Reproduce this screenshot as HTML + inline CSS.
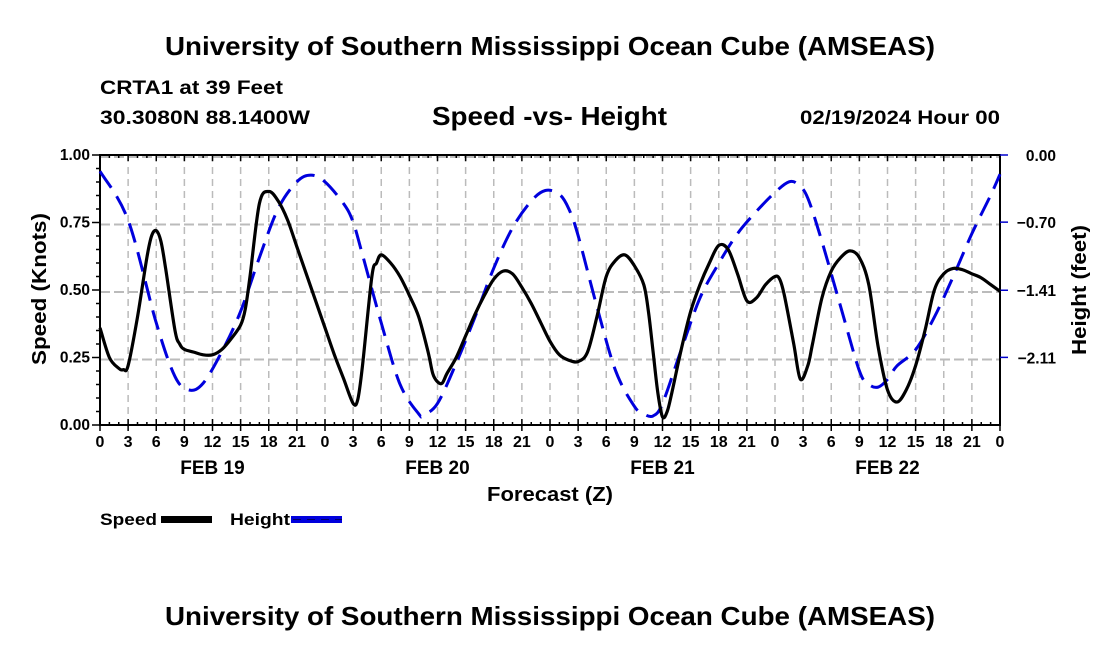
<!DOCTYPE html>
<html><head><meta charset="utf-8"><style>
body{margin:0;background:#fff;}
svg{display:block;font-family:"Liberation Sans",sans-serif;font-weight:bold;}
</style></head><body>
<svg id="c" width="1100" height="650">
<text x="165" y="55" font-size="26" textLength="770" lengthAdjust="spacingAndGlyphs">University of Southern Mississippi Ocean Cube (AMSEAS)</text>
<text x="100" y="94" font-size="19" textLength="183" lengthAdjust="spacingAndGlyphs">CRTA1 at 39 Feet</text>
<text x="100" y="124" font-size="19" textLength="210" lengthAdjust="spacingAndGlyphs">30.3080N  88.1400W</text>
<text x="432" y="125" font-size="26" textLength="235" lengthAdjust="spacingAndGlyphs">Speed -vs- Height</text>
<text x="800" y="124" font-size="19" textLength="200" lengthAdjust="spacingAndGlyphs">02/19/2024 Hour 00</text>
<g id="grid"></g><g id="axes"></g><g id="series"></g>
<text x="487" y="501" font-size="20" textLength="126" lengthAdjust="spacingAndGlyphs">Forecast (Z)</text>
<text transform="translate(46,289) rotate(-90)" text-anchor="middle" font-size="20" textLength="152" lengthAdjust="spacingAndGlyphs">Speed (Knots)</text>
<text transform="translate(1086,290) rotate(-90)" text-anchor="middle" font-size="20" textLength="130" lengthAdjust="spacingAndGlyphs">Height (feet)</text>
<g>
<text x="100" y="525" font-size="17" textLength="57" lengthAdjust="spacingAndGlyphs">Speed</text>
<rect x="161" y="516" width="51" height="7" fill="#000"/>
<text x="230" y="525" font-size="17" textLength="60" lengthAdjust="spacingAndGlyphs">Height</text>
<rect x="291" y="516" width="51" height="7" fill="#0000dd"/>
<line x1="293" y1="519.5" x2="342" y2="519.5" stroke="#000066" stroke-width="1" stroke-dasharray="8,6"/>
</g>
<text x="165" y="625" font-size="26" textLength="770" lengthAdjust="spacingAndGlyphs">University of Southern Mississippi Ocean Cube (AMSEAS)</text>
</svg>
<script>
const speedHours=[0,1,2,2.5,3,4,5,5.5,6,6.5,7,8,8.5,9,10,11,12,13,14,15,15.5,16,17,18,19,20,21,22,23,24,25,26,27,27.5,28,29,29.5,30,31,32,33,34,35,35.5,36,36.5,37,38,39,40,41,42,43,44,45,46,47,48,49,50,51,52,53,54,55,56,57,58,58.5,59,59.5,60,60.5,61,62,63,64,65,66,67,68,69,70,71,72,72.5,73,74,74.7,75.5,76,77,78,79,80,81,82,83,84,85,86,87,88,89,90,91,92,93,94,95,96];
const speedValues=[0.36,0.25,0.21,0.205,0.22,0.4,0.62,0.70,0.72,0.68,0.58,0.35,0.30,0.28,0.27,0.26,0.26,0.28,0.32,0.37,0.43,0.55,0.82,0.865,0.83,0.76,0.66,0.56,0.46,0.36,0.26,0.17,0.08,0.095,0.22,0.55,0.6,0.63,0.6,0.55,0.48,0.4,0.27,0.19,0.16,0.155,0.19,0.25,0.33,0.41,0.48,0.54,0.57,0.56,0.51,0.45,0.38,0.31,0.26,0.24,0.235,0.27,0.4,0.55,0.61,0.63,0.59,0.52,0.42,0.27,0.12,0.03,0.05,0.12,0.28,0.42,0.52,0.6,0.665,0.65,0.56,0.46,0.47,0.52,0.55,0.54,0.48,0.3,0.17,0.22,0.3,0.47,0.57,0.62,0.645,0.62,0.52,0.29,0.13,0.085,0.13,0.22,0.35,0.5,0.56,0.58,0.575,0.56,0.545,0.52,0.495];
const heightHours=[0,3,6,8,9.5,11,13,15,17,19,21,22.5,24,26,27,28,30,32,34,34.5,36,38,40,42,44,46,47.5,49,50,51,53,55,57,58,59,60,62,64,66,68,70,72,73.5,74.5,75.5,77,79,81,82,83,84,85,87,89,91,93,95,96];
const heightValues=[-0.17,-0.68,-1.75,-2.31,-2.45,-2.38,-2.05,-1.63,-1.07,-0.56,-0.28,-0.21,-0.28,-0.51,-0.70,-1.04,-1.75,-2.39,-2.70,-2.71,-2.59,-2.17,-1.69,-1.18,-0.76,-0.48,-0.37,-0.41,-0.56,-0.84,-1.58,-2.25,-2.62,-2.70,-2.72,-2.59,-2.03,-1.49,-1.13,-0.82,-0.59,-0.39,-0.28,-0.31,-0.45,-0.90,-1.58,-2.25,-2.39,-2.42,-2.34,-2.20,-2.03,-1.69,-1.27,-0.82,-0.42,-0.20];
const xTickLabels=["0","3","6","9","12","15","18","21"];
const dayLabels=["FEB 19","FEB 20","FEB 21","FEB 22"];
const leftTicks=["0.00","0.25","0.50","0.75","1.00"];
const rightTicks=["0.00","-0.70","-1.41","-2.11"];
const X0=100,X1=1000,Y0=425,Y1=155,HMIN=-2.815;
const x=h=>X0+(X1-X0)*h/96;
const yS=v=>Y0-(Y0-Y1)*v;
const yH=f=>Y1+(Y0-Y1)*(f/HMIN);
const NS="http://www.w3.org/2000/svg";
function mk(tag,attrs,parent){const e=document.createElementNS(NS,tag);for(const k in attrs)e.setAttribute(k,attrs[k]);document.getElementById(parent).appendChild(e);return e;}
for(let i=0;i<=32;i++){const l=mk('line',{x1:x(i*3),x2:x(i*3),y1:Y1,y2:Y0,stroke:'#bbb','stroke-width':1.5,'stroke-dasharray':'7,5'},'grid');

}
for(let i=1;i<=4;i++){const l=mk('line',{x1:X0,x2:X1,y1:yS(i*0.25)+2,y2:yS(i*0.25)+2,stroke:'#bbb','stroke-width':2,'stroke-dasharray':'10,4'},'grid');

}
const fr=mk('rect',{x:X0,y:Y1,width:X1-X0,height:Y0-Y1,fill:'none',stroke:'#000','stroke-width':2},'axes');


for(let h=0;h<=96;h++){const len=h%3==0?6:3;
mk('line',{x1:x(h),x2:x(h),y1:Y0,y2:Y0-len,stroke:'#000','stroke-width':1.5},'axes');
mk('line',{x1:x(h),x2:x(h),y1:Y1,y2:Y1+len,stroke:'#000','stroke-width':1.5},'axes');
if(h%3==0){mk('line',{x1:x(h),x2:x(h),y1:Y0,y2:Y0+6,stroke:'#000','stroke-width':1.5},'axes');
const t=mk('text',{x:x(h),y:Y0+22,'text-anchor':'middle','font-size':16},'axes');t.textContent=h==96?"0":xTickLabels[(h%24)/3];

}}
dayLabels.forEach((d,i)=>{const t=mk('text',{x:x(12+24*i),y:Y0+49,'text-anchor':'middle','font-size':19},'axes');t.textContent=d;

});
for(let i=0;i<=20;i++){const v=i*0.05,len=i%5==0?8:4;mk('line',{x1:X0,x2:X0-len,y1:yS(v),y2:yS(v),stroke:'#000','stroke-width':1.5},'axes');}
leftTicks.forEach((s,i)=>{const t=mk('text',{x:X0-10,y:yS(i*0.25)+5,'text-anchor':'end','font-size':15.5},'axes');t.textContent=s;

});
rightTicks.forEach((s,i)=>{const f=parseFloat(s);mk('line',{x1:X1,x2:X1+8,y1:yH(f),y2:yH(f),stroke:'#0000cc','stroke-width':1.5},'axes');
const t=mk('text',{x:1056,y:yH(f)+6,'text-anchor':'end','font-size':15.5},'axes');t.textContent=s.replace('-','\u2212');

});
function smooth(pts){let d=`M${pts[0][0]},${pts[0][1]}`;for(let i=0;i<pts.length-1;i++){const p0=pts[Math.max(0,i-1)],p1=pts[i],p2=pts[i+1],p3=pts[Math.min(pts.length-1,i+2)];
d+=` C${p1[0]+(p2[0]-p0[0])/6},${p1[1]+(p2[1]-p0[1])/6} ${p2[0]-(p3[0]-p1[0])/6},${p2[1]-(p3[1]-p1[1])/6} ${p2[0]},${p2[1]}`;}return d;}
const hp=mk('path',{d:smooth(heightHours.map((h,i)=>[x(h),yH(heightValues[i])])),fill:'none',stroke:'#0000dd','stroke-width':3,'stroke-dasharray':'20,10'},'series');


const sp=mk('path',{d:smooth(speedHours.map((h,i)=>[x(h),yS(speedValues[i])])),fill:'none',stroke:'#000','stroke-width':3.2,'stroke-linejoin':'round'},'series');


</script>
</body></html>
